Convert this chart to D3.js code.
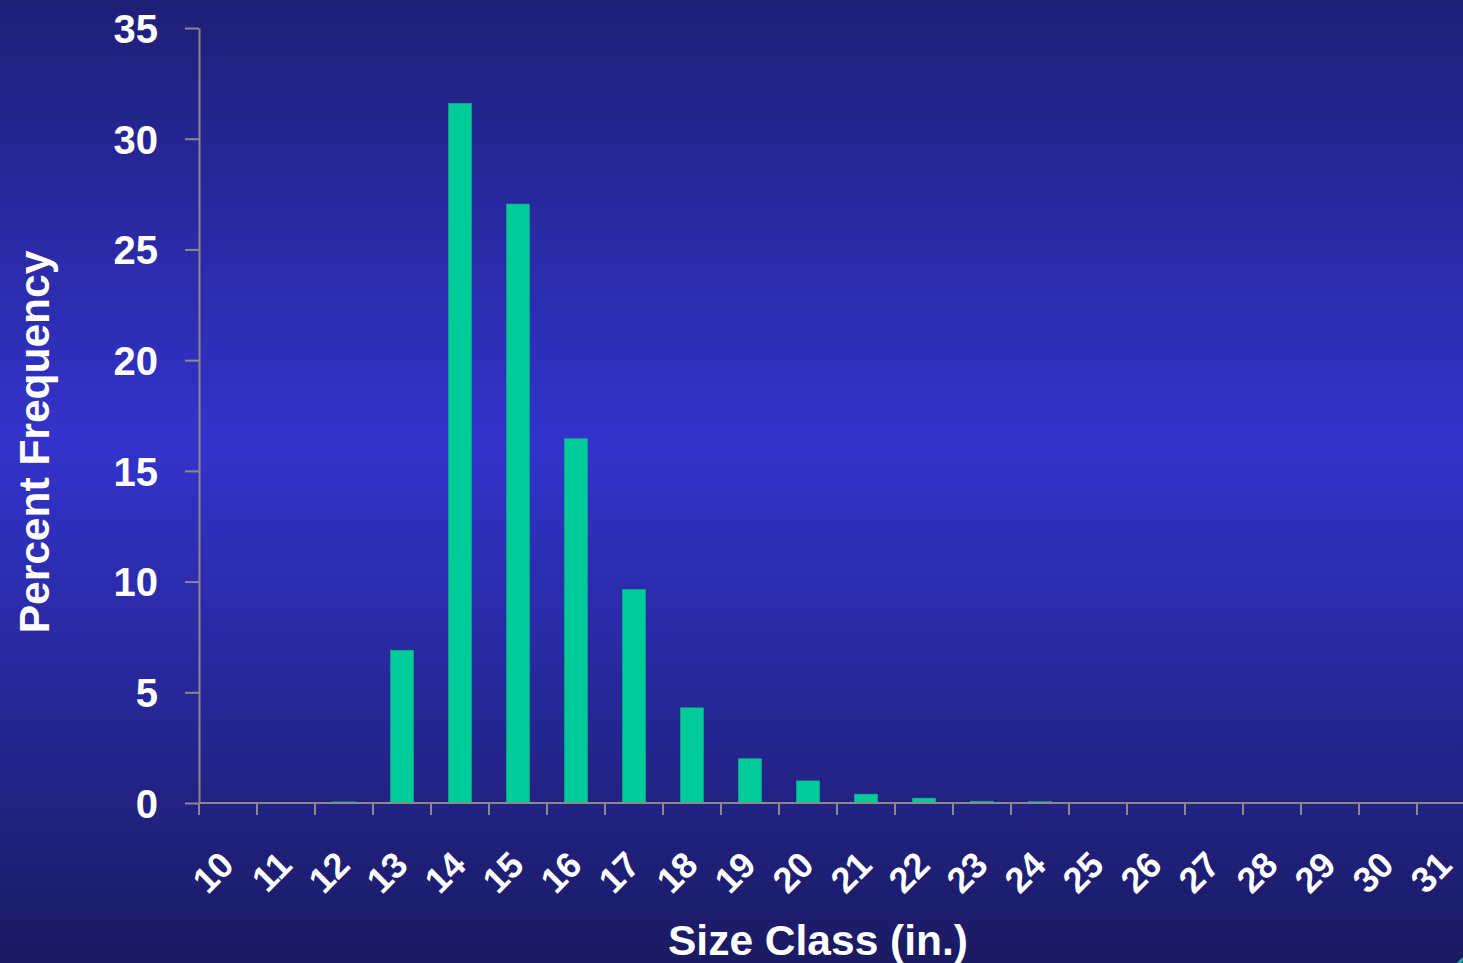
<!DOCTYPE html>
<html>
<head>
<meta charset="utf-8">
<script src="https://cdn.jsdelivr.net/npm/d3@7"></script>
<style>
  html, body { margin: 0; padding: 0; background: #1c1c6c; overflow: hidden; }
  svg { display: block; }
  text { font-family: "Liberation Sans", Arial, Helvetica, sans-serif; font-weight: bold; fill: #ffffff; }
</style>
</head>
<body>
<svg id="chart" width="1463" height="963"></svg>
<script>
// Size classes (inches) and the percent frequency of each class
const sizeClasses = [10, 11, 12, 13, 14, 15, 16, 17, 18, 19, 20, 21, 22, 23, 24, 25, 26, 27, 28, 29, 30, 31];
const percentFrequency = [0, 0, 0.05, 6.9, 31.6, 27.05, 16.45, 9.65, 4.3, 2.0, 1.0, 0.4, 0.22, 0.08, 0.06, 0, 0, 0, 0, 0, 0, 0];
const yTicks = [0, 5, 10, 15, 20, 25, 30, 35];

const width = 1463, height = 963;
const svg = d3.select("#chart");

// Background: vertical blue gradient, brightest in the middle
const defs = svg.append("defs");
const grad = defs.append("linearGradient")
  .attr("id", "bg").attr("x1", 0).attr("y1", 0).attr("x2", 0).attr("y2", 1);
grad.append("stop").attr("offset", "0%").attr("stop-color", "#1f1f78");
grad.append("stop").attr("offset", "46%").attr("stop-color", "#3333cc");
grad.append("stop").attr("offset", "100%").attr("stop-color", "#1a1a62");
svg.append("rect").attr("width", width).attr("height", height).attr("fill", "url(#bg)");

const axisLeft = 199, axisBottom = 803, axisTop = 28, step = 58;

const x = d3.scaleBand()
  .domain(sizeClasses)
  .range([axisLeft, axisLeft + step * sizeClasses.length])
  .paddingInner(0.6)
  .paddingOuter(0.3);

const y = d3.scaleLinear().domain([0, 35]).range([axisBottom, axisTop]);

const data = sizeClasses.map((c, i) => ({ c, v: percentFrequency[i] }));

// Bars
svg.append("g").selectAll("rect")
  .data(data.filter(d => d.v > 0))
  .join("rect")
  .attr("x", d => x(d.c))
  .attr("width", x.bandwidth())
  .attr("y", d => y(d.v))
  .attr("height", d => y(0) - y(d.v))
  .attr("fill", "#00cc99")
  .attr("stroke", "#14a886")
  .attr("stroke-width", 0.6);

// Y axis
const yAxis = svg.append("g")
  .attr("transform", `translate(${axisLeft},0)`)
  .call(d3.axisLeft(y).tickValues(yTicks).tickSize(14).tickPadding(27).tickSizeOuter(0));
yAxis.select(".domain").attr("stroke", "#8a8a8a").attr("stroke-width", 2);
yAxis.selectAll(".tick line").attr("stroke", "#8a8a8a").attr("stroke-width", 2);
yAxis.selectAll(".tick text")
  .attr("fill", "#ffffff")
  .style("font-size", "40px")
  .style("font-family", "Liberation Sans, Arial, sans-serif")
  .style("font-weight", "bold")
  .attr("dy", "0.36em");

// X axis: ticks sit between categories, labels at category centres
const xAxisG = svg.append("g").attr("transform", `translate(0,${axisBottom})`);
xAxisG.append("line")
  .attr("x1", axisLeft).attr("x2", width)
  .attr("y1", 0).attr("y2", 0)
  .attr("stroke", "#8a8a8a").attr("stroke-width", 2);
xAxisG.selectAll("line.tick")
  .data(sizeClasses)
  .join("line")
  .attr("class", "tick")
  .attr("x1", d => x(d) - x.bandwidth() * 0.75)
  .attr("x2", d => x(d) - x.bandwidth() * 0.75)
  .attr("y1", 0).attr("y2", 12)
  .attr("stroke", "#8a8a8a").attr("stroke-width", 2);

xAxisG.selectAll("text.lbl")
  .data(sizeClasses)
  .join("text")
  .attr("class", "lbl")
  .attr("text-anchor", "end")
  .attr("transform", d => `translate(${x(d) + x.bandwidth() / 2 + 8},64) rotate(-45)`)
  .style("font-size", "36px")
  .text(d => d);

// Axis titles
svg.append("text")
  .attr("x", 818).attr("y", 955)
  .attr("text-anchor", "middle")
  .style("font-size", "42.5px")
  .text("Size Class (in.)");

svg.append("text")
  .attr("transform", "translate(49,442) rotate(-90)")
  .attr("text-anchor", "middle")
  .style("font-size", "42.5px")
  .text("Percent Frequency");

// Corner emblem edge
svg.append("circle")
  .attr("cx", 1492).attr("cy", 992).attr("r", 44)
  .attr("fill", "#0f6b73").attr("stroke", "#2aa39a").attr("stroke-width", 3);
</script>
</body>
</html>
